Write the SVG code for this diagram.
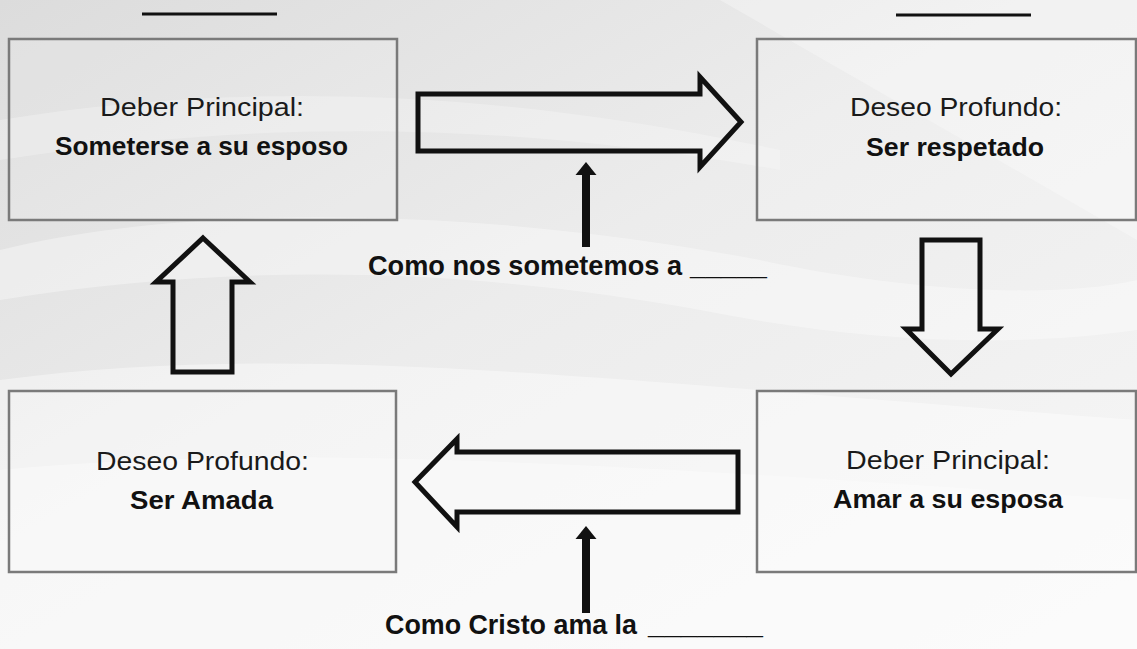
<svg xmlns="http://www.w3.org/2000/svg" width="1137" height="649" viewBox="0 0 1137 649">
<defs>
<linearGradient id="bg" x1="0" y1="0" x2="1" y2="1">
<stop offset="0" stop-color="#dcdcdc"/>
<stop offset="0.45" stop-color="#ececec"/>
<stop offset="1" stop-color="#f6f6f6"/>
</linearGradient>
<marker id="head" markerUnits="userSpaceOnUse" viewBox="0 -11 13 22" markerWidth="13" markerHeight="22" refX="0" refY="0" orient="auto">
<path d="M0,-10.5 L13,0 L0,10.5 Z" fill="#111"/>
</marker>
<style>
.box{fill:#ffffff;fill-opacity:0.12;stroke:#7a7a7a;stroke-width:2.5}
.big{fill:none;stroke:#111;stroke-width:5;stroke-linejoin:miter}
.ptr{stroke:#111;stroke-width:8;fill:none}
.reg{font-family:"Liberation Sans",Arial,sans-serif;font-size:26px;fill:#1a1a1a}
.bold{font-family:"Liberation Sans",Arial,sans-serif;font-size:26px;font-weight:bold;fill:#111}
.lbl{font-family:"Liberation Sans",Arial,sans-serif;font-size:27px;font-weight:bold;fill:#111}
.blank{stroke:#111;stroke-width:3}
</style>
</defs>
<rect x="0" y="0" width="1137" height="649" fill="url(#bg)"/>
<g id="background" fill="#ffffff">
<path d="M0,250 C200,200 500,210 760,260 C900,290 1050,300 1137,280 L1137,330 C1000,350 850,340 700,310 C480,270 250,260 0,300 Z" opacity="0.35"/>
<path d="M0,120 C250,80 500,90 780,150 L780,170 C500,120 250,120 0,160 Z" opacity="0.25"/>
<path d="M720,0 L1137,0 L1137,240 Z" opacity="0.3"/>
<path d="M0,380 C300,340 600,380 1137,420 L1137,649 L0,649 Z" opacity="0.4"/>
<path d="M0,470 C300,440 700,470 1137,500 L1137,649 L0,649 Z" opacity="0.35"/>
</g>
<line class="blank" x1="142" y1="14" x2="277" y2="14"/>
<line class="blank" x1="896" y1="15" x2="1031" y2="15"/>
<g id="node-deber-ella">
<rect class="box" x="9" y="39" width="388" height="181"/>
<text class="reg" x="100" y="116" textLength="204" lengthAdjust="spacingAndGlyphs">Deber Principal:</text>
<text class="bold" x="55" y="155" textLength="293" lengthAdjust="spacingAndGlyphs">Someterse a su esposo</text>
</g>
<g id="node-deseo-el">
<rect class="box" x="757" y="39" width="379" height="181"/>
<text class="reg" x="850" y="116" textLength="212" lengthAdjust="spacingAndGlyphs">Deseo Profundo:</text>
<text class="bold" x="866" y="156" textLength="178" lengthAdjust="spacingAndGlyphs">Ser respetado</text>
</g>
<g id="node-deseo-ella">
<rect class="box" x="9" y="391" width="387" height="181"/>
<text class="reg" x="96" y="470" textLength="213" lengthAdjust="spacingAndGlyphs">Deseo Profundo:</text>
<text class="bold" x="130" y="509" textLength="143" lengthAdjust="spacingAndGlyphs">Ser Amada</text>
</g>
<g id="node-deber-el">
<rect class="box" x="757" y="391" width="379" height="181"/>
<text class="reg" x="846" y="469" textLength="204" lengthAdjust="spacingAndGlyphs">Deber Principal:</text>
<text class="bold" x="833" y="508" textLength="230" lengthAdjust="spacingAndGlyphs">Amar a su esposa</text>
</g>
<g id="connectors">
<polygon class="big" points="418,94 700,94 700,77 741,122 700,167 700,151 418,151"/>
<polygon class="big" points="922,240 980,240 980,329 998,329 951,374 906,329 922,329"/>
<polygon class="big" points="415,482 457,439 457,452 738,452 738,512 457,512 457,527"/>
<polygon class="big" points="203,238 250,282 232,282 232,372 173,372 173,282 156,282"/>
<line class="ptr" x1="586" y1="247" x2="586" y2="175" marker-end="url(#head)"/>
<line class="ptr" x1="586" y1="613" x2="586" y2="539" marker-end="url(#head)"/>
</g>
<g id="label-top">
<text class="lbl" y="275"><tspan x="368" textLength="314" lengthAdjust="spacingAndGlyphs">Como nos sometemos a</tspan><tspan x="690" textLength="77" lengthAdjust="spacingAndGlyphs">_____</tspan></text>
</g>
<g id="label-bottom">
<text class="lbl" y="634"><tspan x="385" textLength="252" lengthAdjust="spacingAndGlyphs">Como Cristo ama la</tspan><tspan x="648" textLength="115" lengthAdjust="spacingAndGlyphs">_______</tspan></text>
</g>
</svg>
